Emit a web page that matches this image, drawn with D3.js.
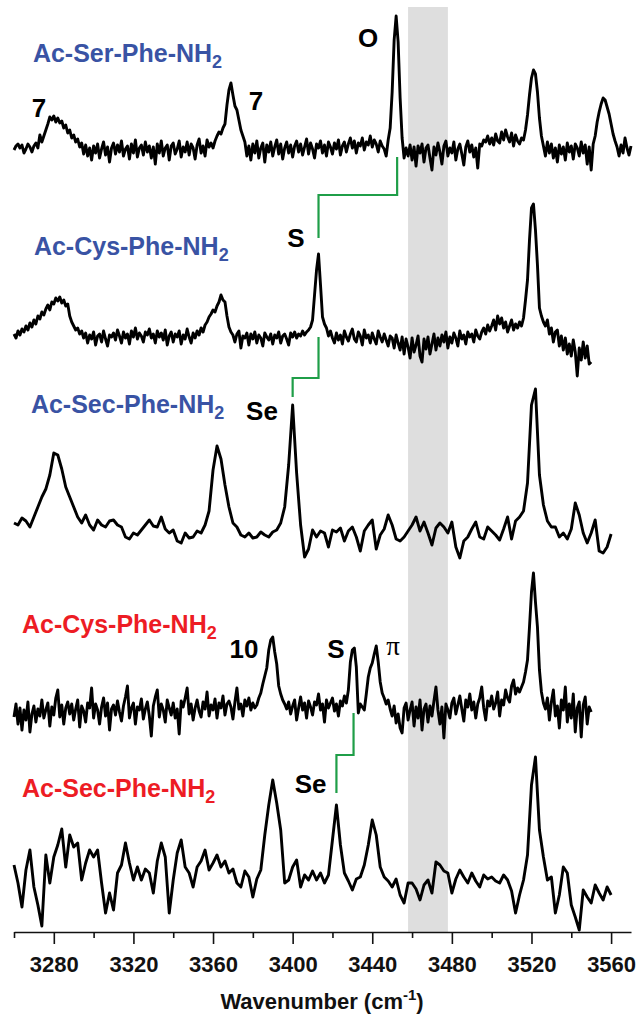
<!DOCTYPE html>
<html>
<head>
<meta charset="utf-8">
<script src="https://cdn.jsdelivr.net/npm/d3@7"></script>
<style>
  body { margin: 0; background: #fff; }
  text { font-family: "Liberation Sans", Arial, sans-serif; }
</style>
</head>
<body>
<div id="chart"></div>
<script>
// wavenumber axis
const majorTicks = [3280, 3320, 3360, 3400, 3440, 3480, 3520, 3560];
const minorTicks = [3260, 3300, 3340, 3380, 3420, 3460, 3500, 3540];
const grayBand = [3458, 3478];

// spectra (arbitrary intensity above each trace baseline)
const traceNames = ["Ac-Ser-Phe-NH", "Ac-Cys-Phe-NH", "Ac-Sec-Phe-NH", "Ac-Cys-Phe-NH", "Ac-Sec-Phe-NH"];
const traceStart = [3260, 3260, 3260, 3260, 3260];
const traceStep = [1, 1, 2, 1, 2];

const serPhe = [
  0, 4, 6, 2, 5, -3, 1, 6, 3, -2,
  4, 7, 2, 15, 8, 14, 20, 26, 33, 30,
  34, 28, 32, 27, 29, 22, 25, 17, 20, 12,
  15, 8, 11, 3, 7, -4, 5, -6, 2, -10,
  4, -3, 6, -8, 1, 8, -5, 3, -12, 2,
  7, -4, 5, -2, 9, -6, 1, 4, -9, 6,
  -3, 10, -7, 2, 5, -5, 8, -2, 4, -8,
  3, -14, 6, -3, 9, -6, 2, 5, -10, 4,
  7, -4, 1, 9, -7, 3, -2, 8, -5, 6,
  2, -9, 5, 11, -3, 4, -6, 10, 3, 7,
  2, 9, 14, 18, 16, 22, 26, 45, 60, 67,
  55, 44, 40, 30, 20, 14, 8, -6, 4, -10,
  6, -3, 9, -8, 2, 7, -12, 5, -2, 8,
  -6, 3, 10, -4, 6, -9, 2, 8, -3, 5,
  -7, 4, 9, -2, 6, -5, 3, 11, -4, 7,
  1, -8, 6, 2, 9, -3, 5, -6, 8, 3,
  -4, 7, 1, 10, -5, 4, 8, -2, 6, 12,
  2, 9, -3, 7, 4, 12, 0, 8, 5, 14,
  3, 10, 6, -2, 9, 4, 1, -6, 10, 22,
  58, 110, 134, 108, 52, 12, -8, 2, -6, 5,
  -10, 3, -16, 4, -3, 6, -12, 2, 5, -8,
  -20, 3, -5, 7, -2, -14, 4, 9, -6, 2,
  -3, 8, -10, 1, 6, -4, -15, 3, 9, -2,
  5, -7, 2, -18, 6, 4, 10, 8, 14, 6,
  12, 5, 16, 9, 7, 18, 10, 20, 13, 8,
  17, 4, 15, 9, 6, 12, 10, 20, 35, 55,
  72, 80, 76, 58, 32, 14, 4, -6, 8, -3,
  6, -8, 2, -12, 5, -4, 3, -10, 7, -2,
  4, -9, 6, 2, -6, 8, -3, 5, -14, 3,
  -20, 6, 14, 28, 38, 46, 52, 50, 43, 36,
  26, 16, 9, 3, -6, 5, -3, 12, 2, -5,
  4
];

const cysPhe = [
  6, 2, 9, 5, 11, 8, 14, 10, 17, 13,
  20, 16, 24, 21, 28, 25, 31, 35, 30, 38,
  36, 42, 39, 43, 37, 40, 34, 36, 24, 18,
  14, 10, 12, 6, 9, 2, 7, -3, 5, 1,
  8, -5, 4, 6, -2, 9, 1, -6, 5, 3,
  7, 0, 10, 4, -3, 8, 2, 6, -4, 9,
  3, 12, 1, 7, 4, -2, 8, 5, 11, 2,
  6, -3, 9, 3, 7, 0, 10, -5, 4, 8,
  -2, 6, 3, 9, -4, 5, 1, 11, 3, -3,
  7, 2, 9, 5, 12, 8, 15, 18, 23, 26,
  30, 28, 34, 38, 45, 40, 38, 24, 13, 8,
  5, -2, 6, 9, -8, 4, 2, 7, -5, 6,
  1, 8, -3, 5, 2, -6, 7, 3, 0, 6,
  -4, 5, 2, 8, -3, 4, 6, 1, -5, 7,
  3, 8, 2, 6, 4, 9, 5, 8, 10, 13,
  20, 45, 70, 86, 55, 23, 16, 12, 4, 9,
  2, -3, 7, 0, 5, -4, 9, 3, -1, 6,
  11, 1, -2, 8, 4, -5, 10, 2, 5, -3,
  7, 1, -4, 9, 3, -2, 6, 0, -6, 4,
  2, -8, 5, -3, -10, 3, -14, 1, -7, -18,
  2, -12, -5, 4, -16, -22, 1, -9, 3, -14,
  -4, 6, -10, 2, -6, 5, -2, 8, -8, 3,
  -3, 7, 2, -6, 9, 1, 5, -4, 8, 3,
  6, -2, 10, 4, 1, 8, 12, 6, 15, 9,
  14, 20, 10, 24, 16, 22, 12, 18, 8, 14,
  20, 10, 16, 12, 18, 14, 22, 40, 60, 100,
  132, 136, 110, 75, 32, 24, 18, 14, 20, 6,
  12, -2, 8, 10, -6, 4, -10, 2, -14, -4,
  -16, 0, -12, -36, -8, -20, -2, -18, -6, -24,
  -22
];

const secPhe = [
  12, 10, 17, 14, 8, 18, 28, 38, 46, 60,
  82, 80, 66, 48, 38, 28, 18, 12, 20, 10,
  5, 15, 10, 8, 14, 15, 10, 8, -2, -4,
  2, 0, 5, 10, 15, 9, 8, 18, 6, 2,
  5, -6, -8, 2, -3, -2, 4, 2, 10, 24,
  65, 89, 76, 50, 28, 12, 8, 0, -2, 2,
  -3, -2, 3, 0, -2, 3, 5, 12, 28, 70,
  130, 62, 10, -22, -14, 5, -2, 4, 2, -12,
  5, 3, 7, -6, 4, 8, -2, -16, 4, 10,
  15, -14, 0, 6, 20, 10, -4, -6, -2, 4,
  10, 18, 4, 13, 2, -10, 7, 12, 8, 2,
  13, -12, -23, -6, -2, 6, 13, -2, -4, 8,
  4, 0, -5, 6, 18, -4, 14, 18, 24, 52,
  130, 146, 60, 30, 14, 8, 8, -2, 2, -4,
  6, 32, 20, 2, -8, 2, 15, -16, -18, -12,
  1
];

const cysPheRed = [
  -5, 8, -12, 4, -18, 2, -8, 10, -20, -2,
  6, -10, 3, -4, 12, -6, 2, 9, -14, 5,
  -3, 14, 22, -5, 7, -12, 4, 10, -2, 8,
  -8, 3, 12, -15, 6, 1, -10, 9, 4, 24,
  -6, 8, 2, -12, 5, 14, -4, 9, -18, 3,
  7, -3, 11, 0, -9, 6, 15, 26, -6, 4,
  9, -12, 5, 2, 13, -7, 3, 10, -4, -24,
  6, 15, 22, -5, 8, 2, -10, 12, 4, -3,
  9, -6, 3, -22, 11, 5, 14, 24, -2, 8,
  -8, 4, 12, 1, -5, 10, 3, 20, -4, 7,
  2, 13, -6, 9, 4, 16, -3, 8, 11, 5,
  -7, 10, 24, 3, 8, -4, 12, 6, 14, 2,
  9, 4, 7, 14, 19, 28, 36, 44, 62, 72,
  75, 60, 48, 26, 18, 12, 8, 3, 10, -2,
  6, 12, -8, 4, 15, 2, 9, -6, 11, 5,
  -3, 10, 7, 18, 2, 8, -10, 12, 4, 9,
  14, 1, 8, -4, 11, 6, 16, 9, 22, 50,
  62, 64, 45, -1, 8, 5, 2, 18, 35, 44,
  49, 58, 66, 50, 30, 19, 14, 8, 12, 3,
  -4, 6, -11, -2, -16, -21, 4, 9, -8, 2,
  10, -14, 5, -6, 12, -18, 3, 8, -10, 6,
  -4, 11, 25, 2, -12, 5, -26, 8, 2, -6,
  9, 14, -2, 7, 16, 3, -9, 12, 5, 18,
  2, 10, -6, 8, 14, 25, 4, -8, 11, 6,
  16, 3, 9, 20, -4, 12, 7, 22, 14, 10,
  26, 32, 18, 24, 20, 25, 30, 40, 52, 85,
  120, 139, 110, 85, 42, 20, 9, 3, 14, -8,
  10, 22, -4, 6, -16, 12, 2, 25, -10, 8,
  -6, 18, -20, 4, 10, -25, 7, 15, -12, 5,
  0
];

const secPheRed = [
  10, -8, -32, 5, 25, -12, -30, -51, 20, -8,
  18, 30, 46, 8, 40, 28, 32, -5, 12, 25,
  18, 25, -8, -38, -18, -35, 2, 10, 32, 12,
  -5, 8, -5, 6, 2, -18, 14, 32, 18, -38,
  -5, 22, 35, 8, 2, -12, 8, 14, 25, 5,
  12, 20, 8, 14, 2, 6, -8, -12, 4, -2,
  -22, -4, 5, 40, 70, 95, 72, 45, -8, -5,
  8, 15, -12, 0, -5, 4, -5, 2, -8, 0,
  35, 70, 30, 2, -6, -15, -4, -2, 10, 30,
  55, 40, 8, -2, -6, -12, -4, -20, -28, -8,
  -8, -14, -25, -10, -5, -18, 13, 10, 4, 2,
  -18, -4, 5, -2, -8, 2, -6, -12, 0, -4,
  -2, -6, -8, 0, -5, -16, -38, -20, -5, 20,
  90, 118, 45, 18, -5, -2, -38, -20, 8, 2,
  -30, -42, -55, -15, -22, -28, -10, -18, -25, -12,
  -20
];

const traceValues = [serPhe, cysPhe, secPhe, cysPheRed, secPheRed];

// layout: baseline level of each trace, in the stacked intensity units
const traceOffsets = [782, 592, 397, 220, 57];
const labelColors = ["#3953a4", "#3953a4", "#3953a4", "#ed1c24", "#ed1c24"];
const titlePos = [[3269.5, 870], [3270, 677], [3268.5, 519], [3264, 299], [3264, 135]];

// peak labels [text, wavenumber, level]
const peakLabels = [
  ["7", 3272.6, 815], ["7", 3381.6, 822], ["O", 3437.9, 885],
  ["S", 3401.7, 685], ["Se", 3384.6, 512],
  ["10", 3375.6, 274], ["S", 3421.8, 274], ["Se", 3409, 139]
];
const piLabel = [3450.5, 277];

// green correlation lines
const connectors = [
  [[3452.5, 775], [3452.5, 737], [3413, 737], [3413, 694]],
  [[3413, 595], [3413, 554], [3400, 554], [3400, 535]],
  [[3430.6, 219], [3430.6, 177], [3422, 177], [3422, 139]]
];

const width = 636, height = 1017;

const svg = d3.select("#chart").append("svg")
  .attr("width", width)
  .attr("height", height);

const x = d3.scaleLinear().domain([3260, 3570]).range([14, 631]);
const y = d3.scaleLinear().domain([0, 930]).range([932, 2]);

// shaded region
svg.append("rect")
  .attr("x", x(grayBand[0]))
  .attr("y", 7)
  .attr("width", x(grayBand[1]) - x(grayBand[0]))
  .attr("height", y(0) - 7)
  .attr("fill", "#dedede");

// axis
let axisG = svg.append("g")
  .attr("transform", "translate(0," + y(0) + ")");

axisG.append("g")
  .call(d3.axisBottom(x).tickValues(minorTicks).tickSize(6).tickSizeOuter(0).tickFormat(""))
  .call(g => g.select(".domain").remove());

let major = axisG.append("g")
  .call(d3.axisBottom(x).tickValues(majorTicks).tickSize(12).tickSizeOuter(0).tickFormat(d3.format("d")));

axisG.selectAll("line").attr("stroke", "#111").attr("stroke-width", 1.6);
major.select(".domain").attr("stroke", "#111").attr("stroke-width", 1.6);
major.selectAll("text")
  .attr("y", 24)
  .attr("dy", "0.71em")
  .style("font-family", "'Liberation Sans', Arial, sans-serif")
  .style("font-size", "22px")
  .style("font-weight", "bold")
  .attr("fill", "#111");

let title = svg.append("text")
  .attr("x", 322)
  .attr("y", 1009)
  .attr("text-anchor", "middle")
  .style("font-size", "22px")
  .style("font-weight", "bold")
  .attr("fill", "#111");
title.append("tspan").text("Wavenumber (cm");
title.append("tspan").attr("dy", -9).style("font-size", "15px").text("-1");
title.append("tspan").attr("dy", 9).text(")");

// spectra
let line = d3.line()
  .x(d => x(d[0]))
  .y(d => y(d[1]));

traceValues.forEach(function (vals, i) {
  let pts = vals.map(function (v, j) {
    return [traceStart[i] + j * traceStep[i], traceOffsets[i] + v];
  });
  svg.append("path")
    .datum(pts)
    .attr("d", line)
    .attr("fill", "none")
    .attr("stroke", "#000")
    .attr("stroke-width", 2.9)
    .attr("stroke-linejoin", "round");
});

// connectors
svg.selectAll(".conn")
  .data(connectors)
  .enter().append("path")
  .attr("class", "conn")
  .attr("d", d3.line().x(d => x(d[0])).y(d => y(d[1])))
  .attr("fill", "none")
  .attr("stroke", "#1f9e48")
  .attr("stroke-width", 2.2);

// trace titles
traceNames.forEach(function (name, i) {
  let t = svg.append("text")
    .attr("x", x(titlePos[i][0]))
    .attr("y", y(titlePos[i][1]))
    .attr("fill", labelColors[i])
    .style("font-size", "25px")
    .style("font-weight", "bold");
  t.append("tspan").text(name);
  t.append("tspan").attr("dy", 6).style("font-size", "18px").text("2");
});

// peak labels
svg.selectAll(".peak")
  .data(peakLabels)
  .enter().append("text")
  .attr("class", "peak")
  .attr("x", d => x(d[1]))
  .attr("y", d => y(d[2]))
  .attr("text-anchor", "middle")
  .style("font-size", "26px")
  .style("font-weight", "bold")
  .attr("fill", "#000")
  .text(d => d[0]);

svg.append("text")
  .attr("x", x(piLabel[0]))
  .attr("y", y(piLabel[1]))
  .attr("text-anchor", "middle")
  .style("font-family", "'Liberation Serif', 'DejaVu Serif', serif")
  .style("font-size", "27px")
  .attr("fill", "#000")
  .text("π");
</script>
</body>
</html>
